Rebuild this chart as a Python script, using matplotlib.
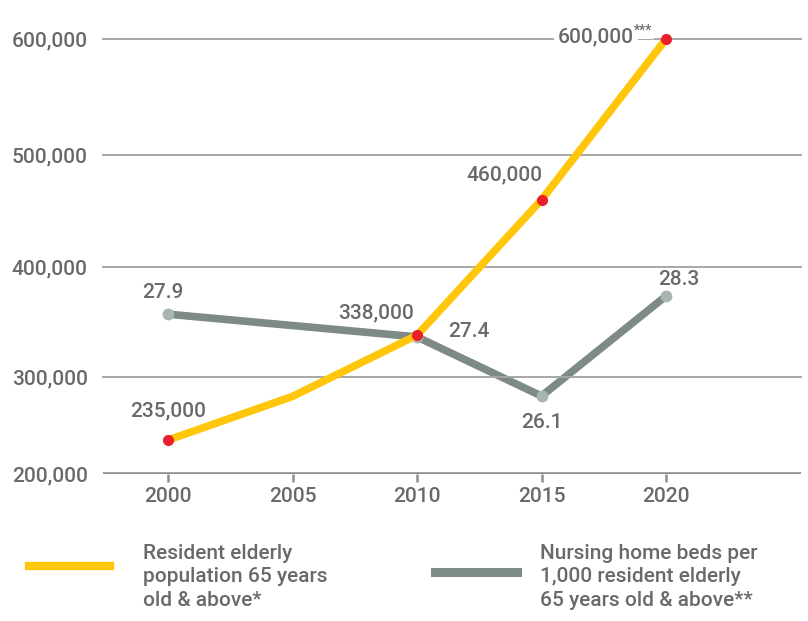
import numpy as np
import matplotlib.pyplot as plt
from matplotlib.lines import Line2D

# === data ===
years = [2000, 2005, 2010, 2015, 2020]
population = [235000, 280000, 338000, 460000, 600000]
pop_dot_years = [2000, 2010, 2015, 2020]
pop_dots = [235000, 338000, 460000, 600000]
pop_labels = ["235,000", "338,000", "460,000", "600,000"]

bed_years = [2000, 2010, 2015, 2020]
beds = [27.9, 27.4, 26.1, 28.3]
bed_labels = ["27.9", "27.4", "26.1", "28.3"]

y_ticks = [200000, 300000, 400000, 500000, 600000]
x_ticks = [2000, 2005, 2010, 2015, 2020]

YELLOW = "#ffc60a"
GREY = "#7e8a88"
GREY_DOT = "#a9b5b3"
RED = "#e8202a"
TXT = "#68696c"
FS = 15

plt.rcParams['font.family'] = ['Roboto', 'DejaVu Sans']
plt.rcParams['font.weight'] = 'medium'

# the original graphic spaces its gridlines unevenly -> piecewise scale
_v = [0, 200000, 300000, 400000, 500000, 600000, 1200000]
_p = [-194, 0, 97, 207, 319, 435, 1131]
def fwd(v):
    return np.interp(v, _v, _p)
def inv(p):
    return np.interp(p, _p, _v)

fig = plt.figure(figsize=(8.08, 6.21), dpi=100)
ax = fig.add_axes([103/808, 1 - 474/621, 698/808, 435/621])
ax.set_yscale('function', functions=(fwd, inv))
ax.set_ylim(200000, 600000)
ax.set_xlim(1997.39, 2025.42)

ax2 = ax.twinx()
ax2.set_ylim(24.386, 33.95)
ax2.axis('off')

for sp in ax.spines.values():
    sp.set_visible(False)

# gridlines
for v in y_ticks[1:]:
    ax.axhline(v, color="#a7a7a7", lw=1.4, zorder=0, clip_on=False)
ax.axhline(y_ticks[0], color="#8f8f8f", lw=2.6, zorder=0)

ax.set_yticks(y_ticks)
ax.set_yticklabels([f"{v:,}" for v in y_ticks])
ax.set_xticks(x_ticks)
ax.set_xticklabels([str(x) for x in x_ticks])
ax.tick_params(axis='y', length=0, pad=11, labelsize=FS, labelcolor=TXT)
ax.tick_params(axis='x', length=6, width=1.8, color="#8f8f8f", pad=3,
               labelsize=FS, labelcolor=TXT)

# grey line (beds)
ax2.plot(bed_years, beds, color=GREY, lw=5.5, solid_capstyle='round',
         solid_joinstyle='miter', zorder=2)
ax2.plot(bed_years, beds, 'o', color=GREY_DOT, ms=7.5, zorder=3)

# yellow line (population)
ax.plot(years, population, color=YELLOW, lw=5.5, solid_capstyle='butt',
        zorder=3, clip_on=False)
ax.plot(pop_dot_years, pop_dots, 'o', color=RED, ms=7, zorder=4, clip_on=False)
ax.set_zorder(ax2.get_zorder() + 1)
ax.patch.set_visible(False)

# population labels
offs = [(0, 29, 'center'), (-3, 22, 'right'), (1, 25, 'right'), (-32, 2, 'right')]
for x, y, lab, (dx, dy, ha) in zip(pop_dot_years, pop_dots, pop_labels, offs):
    t = ax.annotate(lab, (x, y), xytext=(dx, dy), textcoords='offset pixels',
                    ha=ha, va='center', fontsize=FS, color=TXT, zorder=5,
                    annotation_clip=False)
    if y == pop_dots[-1]:
        t.set_bbox(dict(facecolor='white', edgecolor='none', pad=3))
        ax.annotate("***", (x, y), xytext=(dx, dy + 6), textcoords='offset pixels',
                    ha='left', va='center', fontsize=10, color=TXT, zorder=5,
                    annotation_clip=False,
                    bbox=dict(facecolor='white', edgecolor='none', pad=1))

# bed labels
offs2 = [(-5, 22, 'center'), (31, 5, 'left'), (0, -26, 'center'), (13, 16, 'center')]
for x, y, lab, (dx, dy, ha) in zip(bed_years, beds, bed_labels, offs2):
    ax2.annotate(lab, (x, y), xytext=(dx, dy), textcoords='offset pixels',
                 ha=ha, va='center', fontsize=FS, color=TXT, zorder=5)

# legend
fig.add_artist(Line2D([29/808, 110/808], [1 - 566/621] * 2, color=YELLOW, lw=6))
fig.add_artist(Line2D([435/808, 517/808], [1 - 572/621] * 2, color=GREY, lw=6.5))
fig.text(143/808, 1 - 577/621, "Resident elderly\npopulation 65 years\nold & above*",
         ha='left', va='center', fontsize=FS, color=TXT, linespacing=1.27)
fig.text(540/808, 1 - 577/621, "Nursing home beds per\n1,000 resident elderly\n65 years old & above**",
         ha='left', va='center', fontsize=FS, color=TXT, linespacing=1.27)

fig.savefig("out.png", dpi=100)
